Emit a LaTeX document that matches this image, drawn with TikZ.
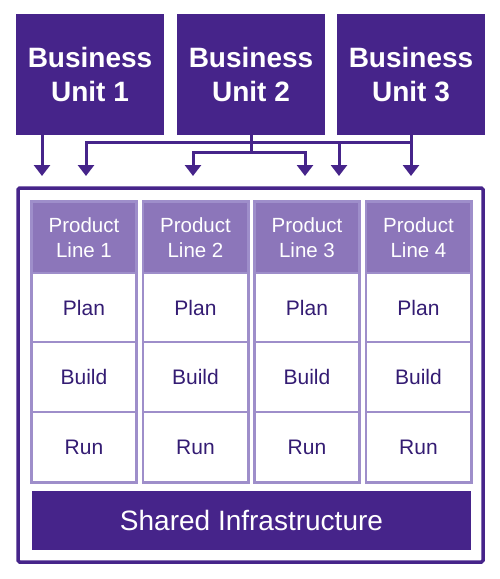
\documentclass[tikz,border=0pt]{standalone}
\usepackage{fontspec}
\setmainfont{Liberation Sans}
\usetikzlibrary{arrows.meta}
\definecolor{dpurple}{RGB}{70,36,138}
\definecolor{hpurple}{RGB}{140,118,186}
\definecolor{lpurple}{RGB}{158,142,202}
\definecolor{tpurple}{RGB}{52,28,115}
\tikzset{
  bu/.style={fill=dpurple, text=white, minimum width=148pt, minimum height=121pt, inner sep=0pt,
    align=center, font=\fontsize{28}{34}\selectfont\bfseries},
  conn/.style={draw=dpurple, line width=3pt},
  arr/.style={conn, -{Triangle[width=16pt,length=11pt]}},
  frame/.style={draw=dpurple, line width=3.5pt, rounded corners=1.5pt, minimum width=465pt, minimum height=374pt, inner sep=0pt},
  head/.style={fill=hpurple, draw=lpurple, line width=1.5pt, text=white, minimum width=104pt, minimum height=71pt, inner sep=0pt,
    align=center, font=\fontsize{20.5}{25}\selectfont},
  cell/.style={fill=white, draw=lpurple, line width=1.5pt, text=tpurple, minimum width=104pt, minimum height=70pt, inner sep=0pt,
    font=\fontsize{21}{25}\selectfont},
  colbox/.style={draw=lpurple, line width=2.5pt},
  infra/.style={fill=dpurple, text=white, minimum width=439pt, minimum height=59pt, inner sep=0pt,
    font=\fontsize{28}{34}\selectfont}
}
\begin{document}
\begin{tikzpicture}[x=1pt,y=-1pt]
\useasboundingbox (0,0) rectangle (499,579);
% business units
\node[bu] (bu1) at (90,74.5) {Business\\Unit 1};
\node[bu] (bu2) at (251,74.5) {Business\\Unit 2};
\node[bu] (bu3) at (411,74.5) {Business\\Unit 3};
% arrow targets and junctions
\coordinate (t1) at (42,176);
\coordinate (t2) at (86,176);
\coordinate (t3) at (193,176);
\coordinate (t4) at (305,176);
\coordinate (t5) at (339,176);
\coordinate (t6) at (411,176);
\coordinate (j1) at (251,142);
\coordinate (j2) at (251,152);
% frame
\node[frame] (frame) at (250.5,375) {};
% connectors
\draw[arr] (bu1.south -| t1) -- (t1);
\draw[conn] (bu2.south) -- (j2);
\draw[arr] (j1) -| (t2);
\draw[conn] (j1) -- (j1 -| t6);
\draw[arr] (bu3.south) -- (t6);
\draw[arr] (j1 -| t6) -| (t5);
\draw[arr] (j2) -| (t3);
\draw[arr] (j2) -| (t4);
% product lines
\foreach \i/\x in {1/84,2/195.5,3/307,4/418.5}{
  \node[head] (h\i) at (\x,237.5) {Product\\Line \i};
  \node[cell, minimum height=69pt] (p\i) at (\x,307.5) {Plan};
  \node[cell] (b\i) at (\x,377) {Build};
  \node[cell] (r\i) at (\x,447) {Run};
  \draw[colbox] (h\i.north west) rectangle (r\i.south east);
}
% shared infrastructure
\node[infra] (infra) at (251.5,520.5) {Shared Infrastructure};
\end{tikzpicture}
\end{document}
